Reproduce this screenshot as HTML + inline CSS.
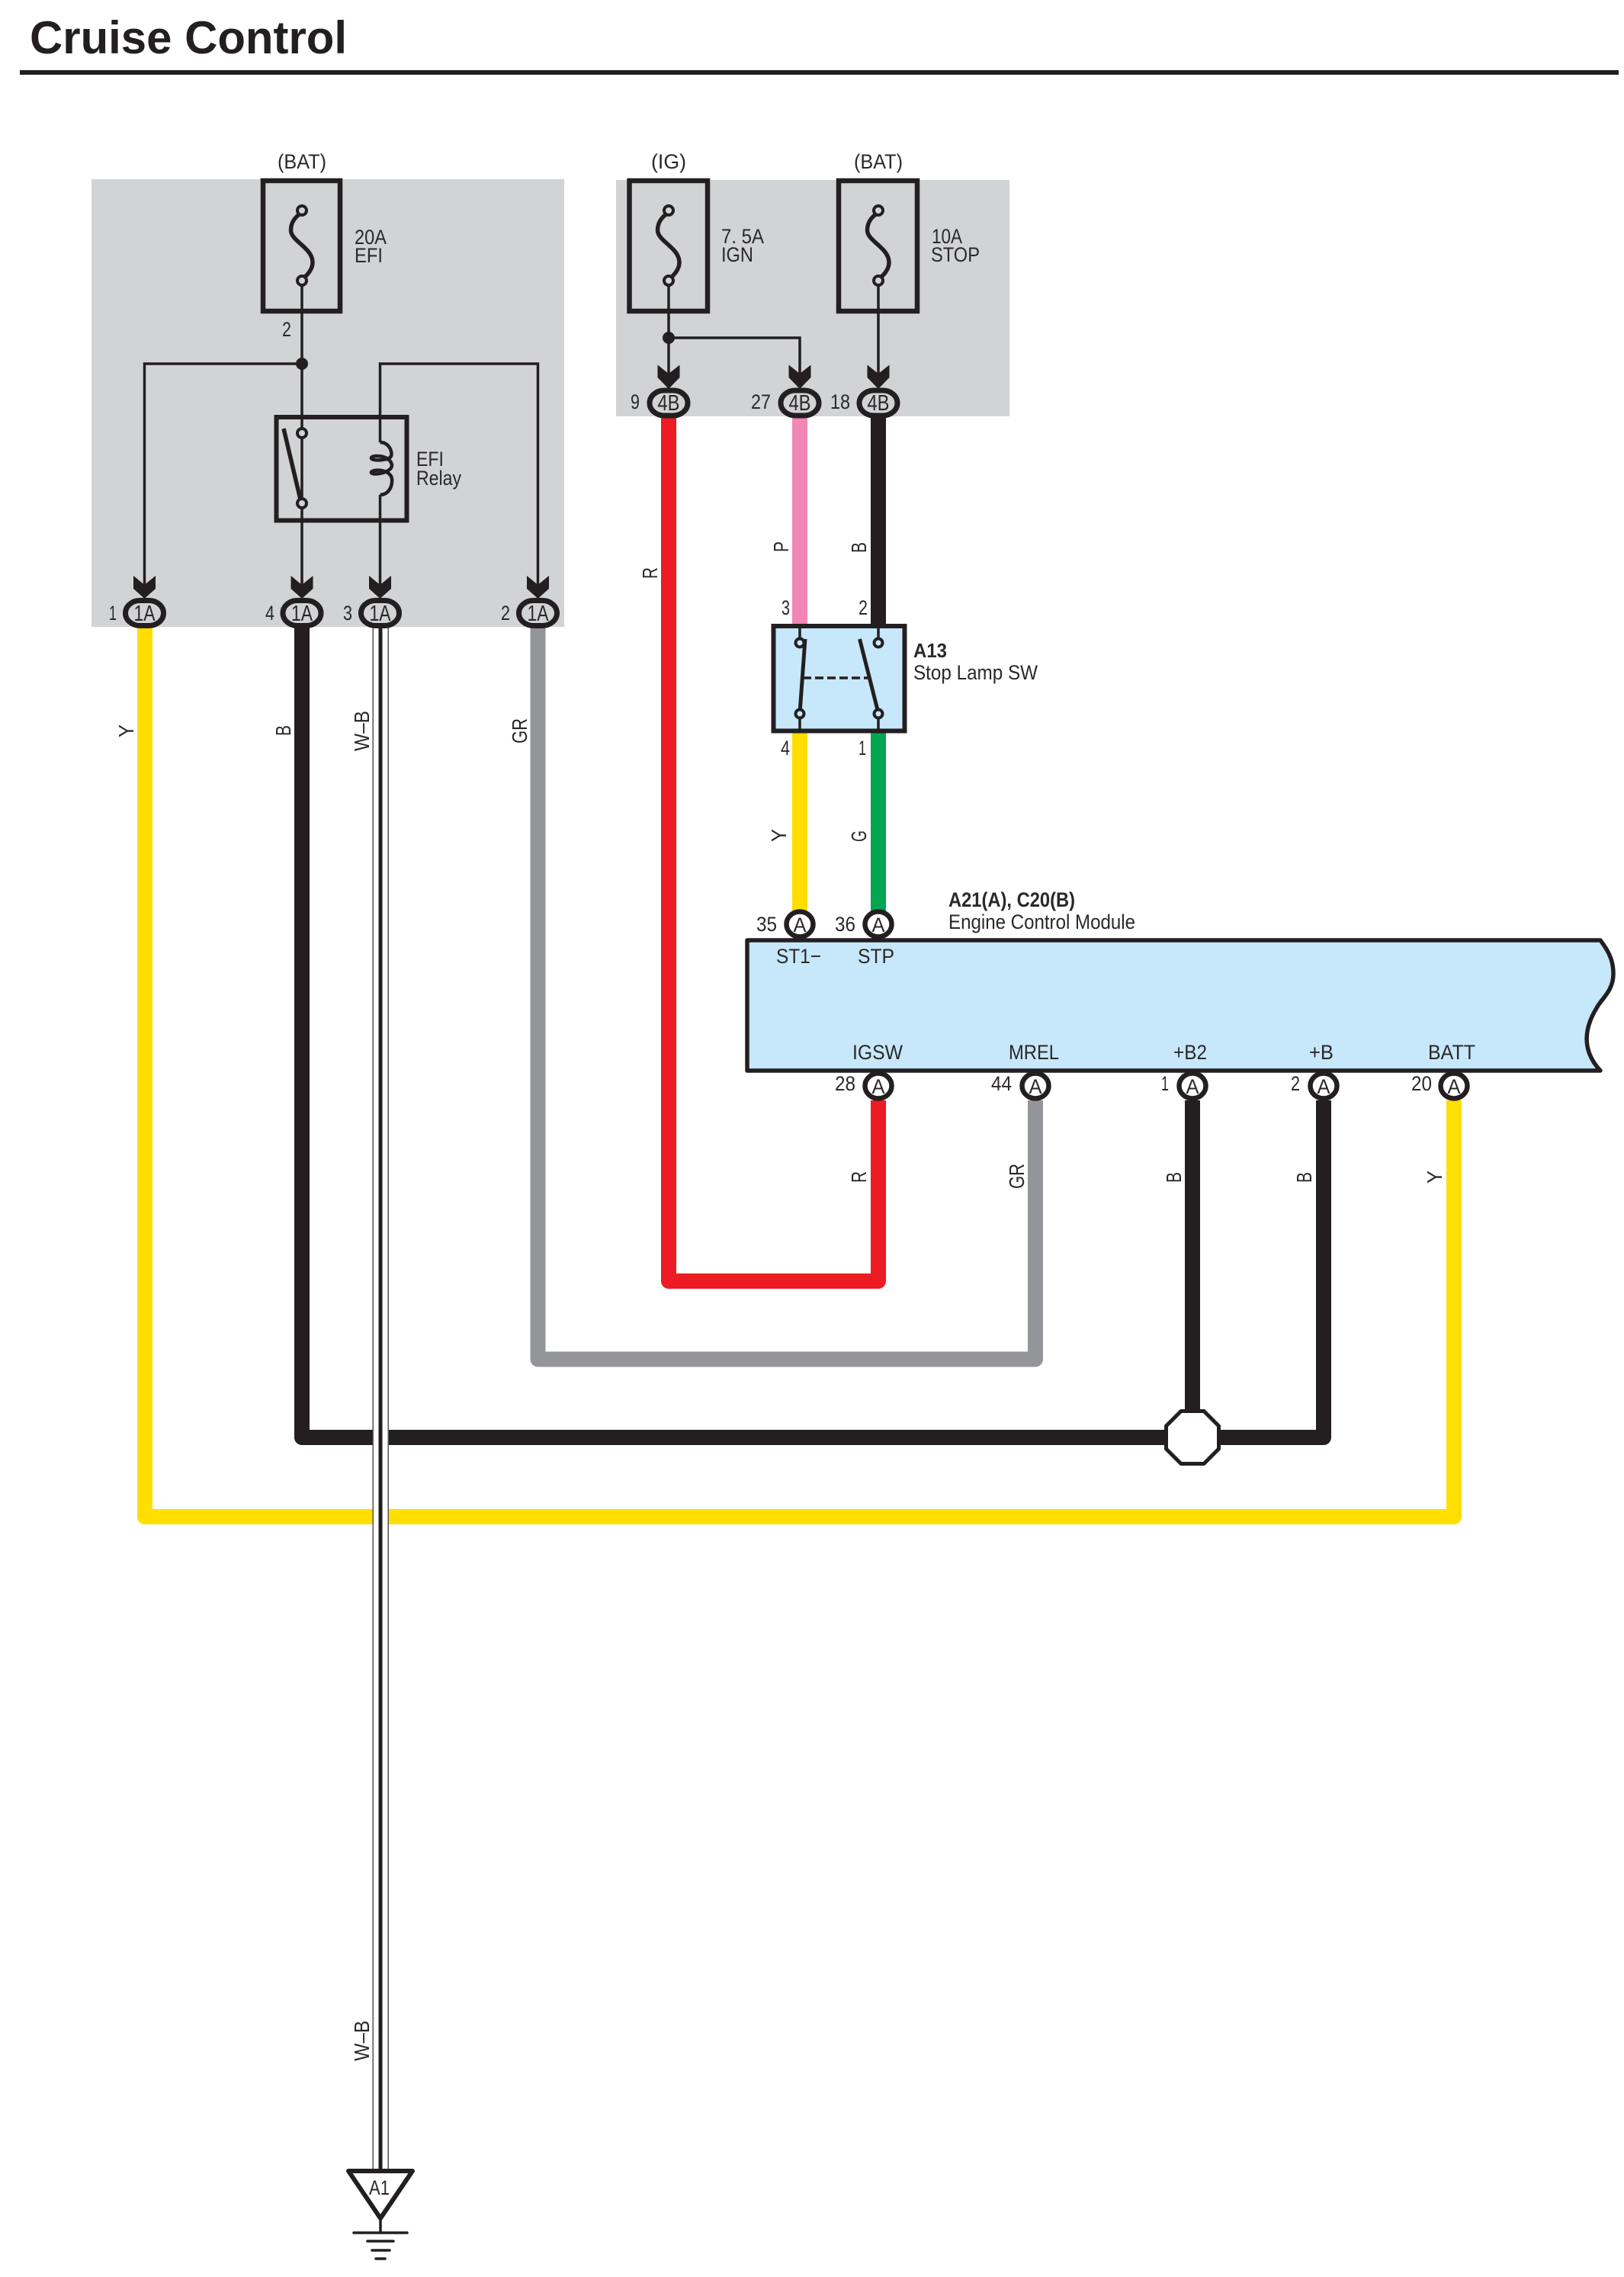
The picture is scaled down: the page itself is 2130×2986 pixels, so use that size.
<!DOCTYPE html>
<html><head><meta charset="utf-8"><title>Cruise Control</title>
<style>html,body{margin:0;padding:0;background:#fff}svg{display:block}
text{font-family:"Liberation Sans",Arial,sans-serif;fill:#2b2829;font-size:27px}
</style></head><body>
<svg xmlns="http://www.w3.org/2000/svg" width="2130" height="2986" viewBox="0 0 2130 2986">
<rect width="2130" height="2986" fill="#fff"/>
<text x="39" y="70" style="font-size:60px;font-weight:bold;fill:#231f20" textLength="416" lengthAdjust="spacingAndGlyphs">Cruise Control</text>
<rect x="26" y="92" width="2097" height="6" fill="#231f20"/>
<!-- gray boxes -->
<rect x="120" y="235" width="620" height="587" fill="#d1d3d4"/>
<rect x="808" y="236" width="516" height="310" fill="#d1d3d4"/>
<!-- thick wires -->
<g fill="none" stroke-width="20" stroke-linejoin="round">
<path d="M190 822V1989H1907V1443" stroke="#ffde00"/>
<path d="M396 822V1885H1736V1443" stroke="#231f20"/>
<path d="M1564 1443V1885" stroke="#231f20"/>
<path d="M705.5 822V1782.5H1358V1443" stroke="#939598"/>
<path d="M877 546V1680H1152V1443" stroke="#ed1c24"/>
<path d="M1049 546V819" stroke="#f287b7"/>
<path d="M1152 546V819" stroke="#231f20"/>
<path d="M1049 960V1195" stroke="#ffde00"/>
<path d="M1152 960V1195" stroke="#00a651"/>
</g>
<!-- W-B wire -->
<rect x="489" y="822" width="20" height="2025" fill="#fff"/>
<rect x="488.5" y="822" width="1.5" height="2025" fill="#555"/>
<rect x="508.5" y="822" width="1.5" height="2025" fill="#555"/>
<rect x="496.5" y="822" width="5" height="2025" fill="#231f20"/>
<!-- splice -->
<polygon points="1549,1850.5 1579,1850.5 1598.5,1870 1598.5,1900 1579,1919.5 1549,1919.5 1529.5,1900 1529.5,1870" fill="#fff" stroke="#231f20" stroke-width="5" stroke-linejoin="round"/>
<!-- thin wires box 1 -->
<g fill="none" stroke="#231f20" stroke-width="3.5">
<path d="M396 368V770"/>
<path d="M396 477H189.5V770"/>
<path d="M705.5 770V477H498.5V580"/>
<path d="M498.5 649V770"/>
<path d="M877 368V500"/>
<path d="M877 443H1049V500"/>
<path d="M1152 368V500"/>
</g>
<circle cx="396" cy="477" r="8" fill="#231f20"/>
<circle cx="877" cy="443" r="8" fill="#231f20"/>
<!-- fuses -->
<g fill="none" stroke="#231f20" stroke-width="6.5" stroke-linejoin="miter">
<rect x="345" y="237" width="101" height="171"/>
<rect x="825.500" y="237" width="102.500" height="171"/>
<rect x="1100" y="237" width="103" height="171"/>
</g>
<g fill="none" stroke="#231f20" stroke-width="5.5">
<path d="M396 279C387 284 381.500 292 381.500 302C381.500 316 410 325 410 344C410 354 402 362 396 366"/>
<path d="M877 279C868 284 862.500 292 862.500 302C862.500 316 891 325 891 344C891 354 883 362 877 366"/>
<path d="M1152 279C1143 284 1137.500 292 1137.500 302C1137.500 316 1166 325 1166 344C1166 354 1158 362 1152 366"/>
</g>
<g fill="#d1d3d4" stroke="#231f20" stroke-width="4">
<circle cx="396" cy="276" r="6"/><circle cx="396" cy="368" r="6"/>
<circle cx="877" cy="276" r="6"/><circle cx="877" cy="368" r="6"/>
<circle cx="1152" cy="276" r="6"/><circle cx="1152" cy="368" r="6"/>
</g>
<!-- relay -->
<rect x="362.500" y="547" width="171" height="135.500" fill="none" stroke="#231f20" stroke-width="6"/>
<path d="M372 562L394 655" stroke="#231f20" stroke-width="5.500" fill="none"/>
<path d="M498.500 580C510 580 515 592 513 598C511 604 488 605 487 601C486 596 512 596 514 610C514 620 490 624 487 620C486 615 512 614 514 628C515 640 508 649 498.500 649" fill="none" stroke="#231f20" stroke-width="4.500"/>
<g fill="#d1d3d4" stroke="#231f20" stroke-width="4"><circle cx="396" cy="568" r="6"/><circle cx="396" cy="660" r="6"/></g>
<!-- arrows -->
<g fill="#231f20">
<path d="M175 755L189.500 767L204 755V772L189.500 785L175 772Z"/>
<path d="M381.500 755L396 767L410.500 755V772L396 785L381.500 772Z"/>
<path d="M484 755L498.500 767L513 755V772L498.500 785L484 772Z"/>
<path d="M691 755L705.500 767L720 755V772L705.500 785L691 772Z"/>
<path d="M862.500 478.500L877 490L891.500 478.500V495L877 510L862.500 495Z"/>
<path d="M1034.500 478.500L1049 490L1063.500 478.500V495L1049 510L1034.500 495Z"/>
<path d="M1137.500 478.500L1152 490L1166.500 478.500V495L1152 510L1137.500 495Z"/>
</g>
<!-- oval connectors -->
<g fill="#d1d3d4" stroke="#231f20" stroke-width="7">
<rect x="164.500" y="787.500" width="50" height="33" rx="19" ry="16.500"/>
<rect x="371" y="787.500" width="50" height="33" rx="19" ry="16.500"/>
<rect x="473.500" y="787.500" width="50" height="33" rx="19" ry="16.500"/>
<rect x="680.500" y="787.500" width="50" height="33" rx="19" ry="16.500"/>
<rect x="852" y="512" width="50" height="33" rx="19" ry="16.500"/>
<rect x="1024" y="512" width="50" height="33" rx="19" ry="16.500"/>
<rect x="1127" y="512" width="50" height="33" rx="19" ry="16.500"/>
</g>
<!-- stop lamp switch -->
<rect x="1014.500" y="821" width="172" height="137.500" fill="#c7e7fa" stroke="#231f20" stroke-width="6"/>
<g fill="none" stroke="#231f20">
<path d="M1049 819V843M1152 819V843M1049 935V960M1152 935V960" stroke-width="3.500"/>
<path d="M1056 838L1049 935M1127.500 838L1152 935" stroke-width="5"/>
<path d="M1053 889H1138" stroke-width="3.500" stroke-dasharray="11 5"/>
</g>
<g fill="#c7e7fa" stroke="#231f20" stroke-width="4">
<circle cx="1049" cy="843" r="5.500"/><circle cx="1049" cy="936" r="5.500"/>
<circle cx="1152" cy="843" r="5.500"/><circle cx="1152" cy="936" r="5.500"/>
</g>
<!-- ECM -->
<path d="M980 1233H2099C2112 1250 2116 1262 2116 1277C2116 1300 2100 1310 2094 1322C2080 1345 2072 1375 2099 1404H980Z" fill="#c7e7fa" stroke="#231f20" stroke-width="5.500" stroke-linejoin="round"/>
<g fill="#fff" stroke="#231f20" stroke-width="6.500">
<ellipse cx="1049" cy="1212" rx="17.500" ry="16.500"/><ellipse cx="1152" cy="1212" rx="17.500" ry="16.500"/>
<ellipse cx="1152" cy="1424" rx="17.500" ry="16.500"/><ellipse cx="1358" cy="1424" rx="17.500" ry="16.500"/>
<ellipse cx="1564" cy="1424" rx="17.500" ry="16.500"/><ellipse cx="1736" cy="1424" rx="17.500" ry="16.500"/>
<ellipse cx="1907" cy="1424" rx="17.500" ry="16.500"/>
</g>
<!-- ground -->
<polygon points="457,2847 541,2847 499,2909" fill="#fff" stroke="#231f20" stroke-width="6" stroke-linejoin="round"/>
<g stroke="#231f20" stroke-linecap="round" fill="none">
<path d="M499 2908V2928" stroke-width="3.500"/>
<path d="M464 2928H534" stroke-width="3.500"/>
<path d="M482 2939H516" stroke-width="3.500"/>
<path d="M488 2951H511" stroke-width="3.500"/>
<path d="M493 2962H505" stroke-width="3.500"/>
</g>
<!-- labels -->
<text x="364" y="221" textLength="64" lengthAdjust="spacingAndGlyphs">(BAT)</text>
<text x="854" y="221" textLength="46" lengthAdjust="spacingAndGlyphs">(IG)</text>
<text x="1120" y="221" textLength="64" lengthAdjust="spacingAndGlyphs">(BAT)</text>
<text x="465" y="320" textLength="42" lengthAdjust="spacingAndGlyphs">20A</text>
<text x="465" y="344" textLength="37" lengthAdjust="spacingAndGlyphs">EFI</text>
<text x="946" y="319" textLength="56" lengthAdjust="spacingAndGlyphs">7. 5A</text>
<text x="946" y="343" textLength="42" lengthAdjust="spacingAndGlyphs">IGN</text>
<text x="1222" y="319" textLength="40" lengthAdjust="spacingAndGlyphs">10A</text>
<text x="1221" y="343" textLength="64" lengthAdjust="spacingAndGlyphs">STOP</text>
<text x="546" y="611" textLength="36" lengthAdjust="spacingAndGlyphs">EFI</text>
<text x="546" y="636" textLength="59" lengthAdjust="spacingAndGlyphs">Relay</text>
<text x="370" y="441" textLength="12" lengthAdjust="spacingAndGlyphs">2</text>
<!-- oval labels -->
<text x="175.500" y="814" style="font-size:29px" textLength="28" lengthAdjust="spacingAndGlyphs">1A</text>
<text x="382" y="814" style="font-size:29px" textLength="28" lengthAdjust="spacingAndGlyphs">1A</text>
<text x="484.500" y="814" style="font-size:29px" textLength="28" lengthAdjust="spacingAndGlyphs">1A</text>
<text x="691.500" y="814" style="font-size:29px" textLength="28" lengthAdjust="spacingAndGlyphs">1A</text>
<text x="862.500" y="538" style="font-size:29px" textLength="29" lengthAdjust="spacingAndGlyphs">4B</text>
<text x="1034.500" y="538" style="font-size:29px" textLength="29" lengthAdjust="spacingAndGlyphs">4B</text>
<text x="1137.500" y="538" style="font-size:29px" textLength="29" lengthAdjust="spacingAndGlyphs">4B</text>
<text x="143" y="813" textLength="10" lengthAdjust="spacingAndGlyphs">1</text>
<text x="348" y="813" textLength="12" lengthAdjust="spacingAndGlyphs">4</text>
<text x="450" y="813" textLength="12" lengthAdjust="spacingAndGlyphs">3</text>
<text x="657" y="813" textLength="12" lengthAdjust="spacingAndGlyphs">2</text>
<text x="827" y="536" textLength="12" lengthAdjust="spacingAndGlyphs">9</text>
<text x="985" y="536" textLength="26" lengthAdjust="spacingAndGlyphs">27</text>
<text x="1089" y="536" textLength="26" lengthAdjust="spacingAndGlyphs">18</text>
<text x="1025" y="806" textLength="11" lengthAdjust="spacingAndGlyphs">3</text>
<text x="1126" y="806" textLength="12" lengthAdjust="spacingAndGlyphs">2</text>
<text x="1024" y="990" textLength="12" lengthAdjust="spacingAndGlyphs">4</text>
<text x="1126" y="990" textLength="10" lengthAdjust="spacingAndGlyphs">1</text>
<text x="1198" y="862" style="font-weight:bold;font-size:26px" textLength="44" lengthAdjust="spacingAndGlyphs">A13</text>
<text x="1198" y="891" textLength="163" lengthAdjust="spacingAndGlyphs">Stop Lamp SW</text>
<text x="1244" y="1189" style="font-weight:bold" textLength="166" lengthAdjust="spacingAndGlyphs">A21(A), C20(B)</text>
<text x="1244" y="1218" textLength="245" lengthAdjust="spacingAndGlyphs">Engine Control Module</text>
<text x="1018" y="1263" textLength="59" lengthAdjust="spacingAndGlyphs">ST1−</text>
<text x="1125" y="1263" textLength="48" lengthAdjust="spacingAndGlyphs">STP</text>
<text x="1118" y="1389" textLength="66" lengthAdjust="spacingAndGlyphs">IGSW</text>
<text x="1323" y="1389" textLength="66" lengthAdjust="spacingAndGlyphs">MREL</text>
<text x="1539" y="1389" textLength="44" lengthAdjust="spacingAndGlyphs">+B2</text>
<text x="1717" y="1389" textLength="32" lengthAdjust="spacingAndGlyphs">+B</text>
<text x="1873" y="1389" textLength="62" lengthAdjust="spacingAndGlyphs">BATT</text>
<text x="992" y="1221" textLength="27" lengthAdjust="spacingAndGlyphs">35</text>
<text x="1095" y="1221" textLength="27" lengthAdjust="spacingAndGlyphs">36</text>
<text x="1095" y="1430" textLength="27" lengthAdjust="spacingAndGlyphs">28</text>
<text x="1300" y="1430" textLength="27" lengthAdjust="spacingAndGlyphs">44</text>
<text x="1523" y="1430" textLength="10" lengthAdjust="spacingAndGlyphs">1</text>
<text x="1693" y="1430" textLength="12" lengthAdjust="spacingAndGlyphs">2</text>
<text x="1851" y="1430" textLength="27" lengthAdjust="spacingAndGlyphs">20</text>
<text x="1040.500" y="1222" textLength="17" lengthAdjust="spacingAndGlyphs">A</text>
<text x="1143.500" y="1222" textLength="17" lengthAdjust="spacingAndGlyphs">A</text>
<text x="1143.500" y="1434" textLength="17" lengthAdjust="spacingAndGlyphs">A</text>
<text x="1349.500" y="1434" textLength="17" lengthAdjust="spacingAndGlyphs">A</text>
<text x="1555.500" y="1434" textLength="17" lengthAdjust="spacingAndGlyphs">A</text>
<text x="1727.500" y="1434" textLength="17" lengthAdjust="spacingAndGlyphs">A</text>
<text x="1898.500" y="1434" textLength="17" lengthAdjust="spacingAndGlyphs">A</text>
<text x="484" y="2878" textLength="27" lengthAdjust="spacingAndGlyphs">A1</text>
<!-- rotated wire labels -->
<g>
<text transform="translate(175 967) rotate(-90)" style="font-size:28px" textLength="17" lengthAdjust="spacingAndGlyphs">Y</text>
<text transform="translate(381 965) rotate(-90)" style="font-size:28px" textLength="14" lengthAdjust="spacingAndGlyphs">B</text>
<text transform="translate(484 985) rotate(-90)" style="font-size:28px" textLength="53" lengthAdjust="spacingAndGlyphs">W–B</text>
<text transform="translate(691 975) rotate(-90)" style="font-size:28px" textLength="33" lengthAdjust="spacingAndGlyphs">GR</text>
<text transform="translate(862 759) rotate(-90)" style="font-size:28px" textLength="15" lengthAdjust="spacingAndGlyphs">R</text>
<text transform="translate(1034 724) rotate(-90)" style="font-size:28px" textLength="14" lengthAdjust="spacingAndGlyphs">P</text>
<text transform="translate(1136 725) rotate(-90)" style="font-size:28px" textLength="14" lengthAdjust="spacingAndGlyphs">B</text>
<text transform="translate(1031 1104) rotate(-90)" style="font-size:28px" textLength="17" lengthAdjust="spacingAndGlyphs">Y</text>
<text transform="translate(1136 1104) rotate(-90)" style="font-size:28px" textLength="15" lengthAdjust="spacingAndGlyphs">G</text>
<text transform="translate(1136 1551) rotate(-90)" style="font-size:28px" textLength="15" lengthAdjust="spacingAndGlyphs">R</text>
<text transform="translate(1343 1559) rotate(-90)" style="font-size:28px" textLength="33" lengthAdjust="spacingAndGlyphs">GR</text>
<text transform="translate(1549 1551) rotate(-90)" style="font-size:28px" textLength="14" lengthAdjust="spacingAndGlyphs">B</text>
<text transform="translate(1720 1551) rotate(-90)" style="font-size:28px" textLength="14" lengthAdjust="spacingAndGlyphs">B</text>
<text transform="translate(1891 1552) rotate(-90)" style="font-size:28px" textLength="17" lengthAdjust="spacingAndGlyphs">Y</text>
<text transform="translate(484 2702.700) rotate(-90)" style="font-size:28px" textLength="53" lengthAdjust="spacingAndGlyphs">W–B</text>
</g>
</svg>
</body></html>
